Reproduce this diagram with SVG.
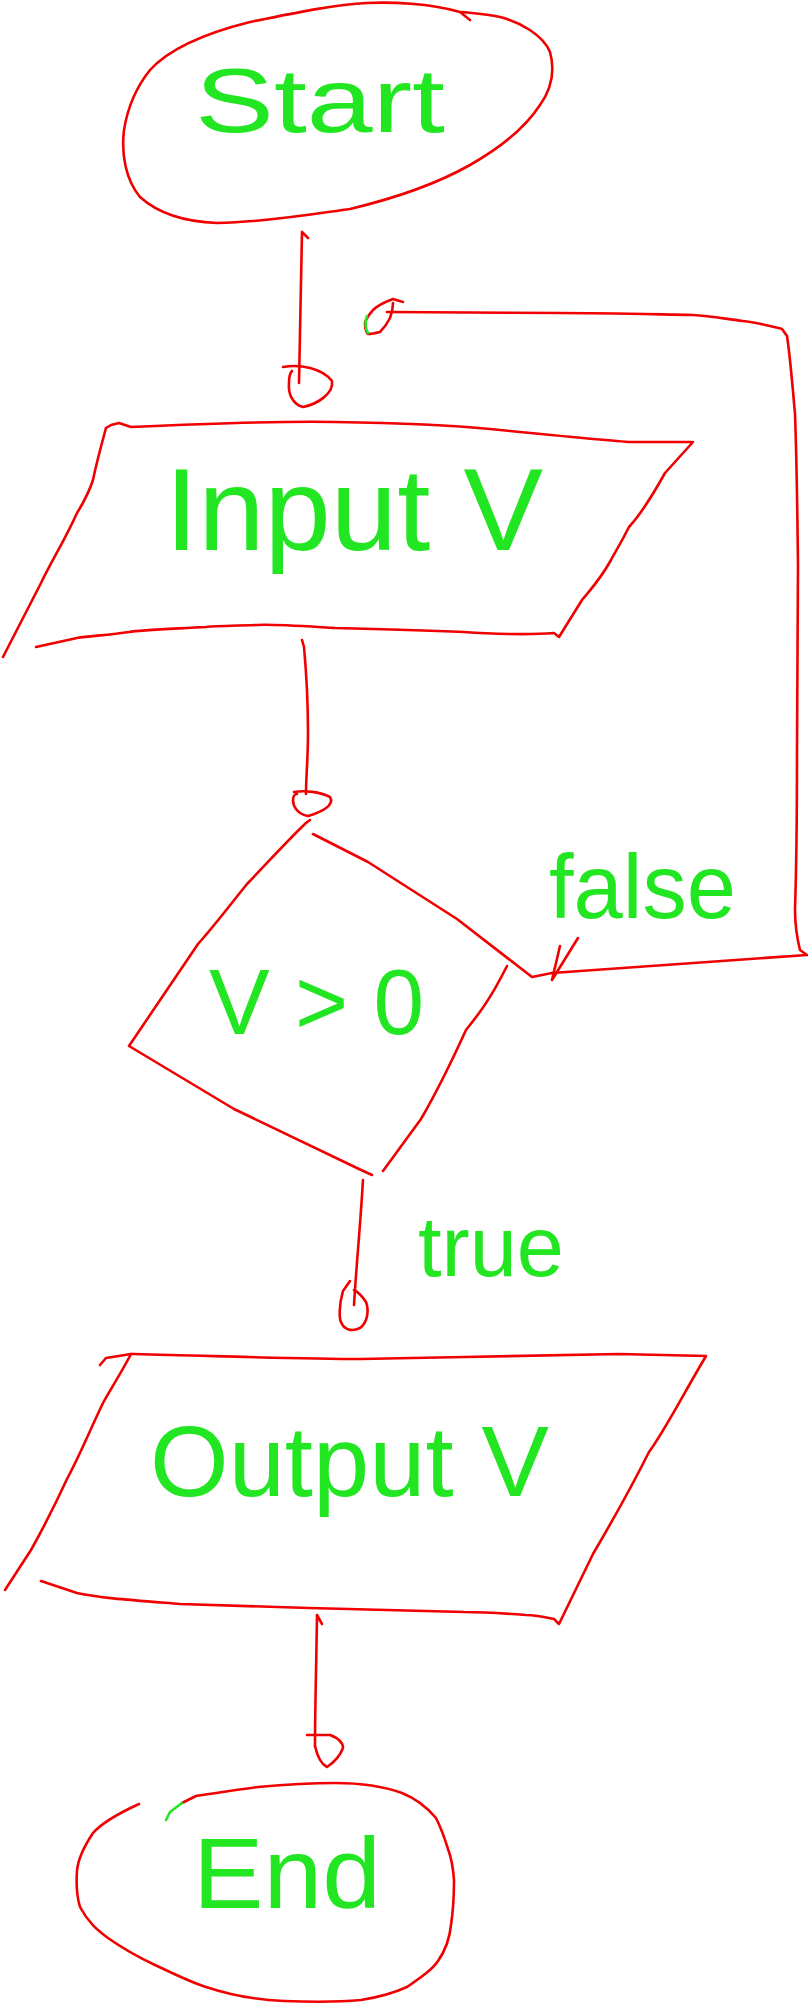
<svg xmlns="http://www.w3.org/2000/svg" width="808" height="2004" viewBox="0 0 808 2004">
<style>
.s{fill:none;stroke:#f00000;stroke-width:2.6;stroke-linecap:round;stroke-linejoin:round}
.g{fill:none;stroke:#22e622;stroke-width:2.6;stroke-linecap:round;stroke-linejoin:round}
.t{font-family:"Liberation Sans",Arial,sans-serif;fill:#22e622;font-weight:normal}
</style>
<rect width="808" height="2004" fill="#ffffff"/>
<g id="start">
<path class="s" d="M470,20 L460,12 C430,3 390,2 367,3 C330,5 290,14 250,22 C210,32 170,48 150,70 C138,85 128,105 124,130 C121,155 126,180 140,197 C160,215 190,222 217,223 C270,222 320,213 350,209 C400,197 440,182 470,165 C500,148 525,128 540,105 C552,88 555,70 550,52 C543,35 520,22 500,17 C485,14 470,13 462,12"/>
<text class="t" x="195" y="132" font-size="90" textLength="250" lengthAdjust="spacingAndGlyphs">Start</text>
</g>
<g id="input">
<path class="s" d="M106,428 L111,425 L119,423 L131,427 C200,424 300,421 335,422 C400,423 460,426 490,429 C540,434 600,440 629,442 L693,442 L665,473 C650,500 640,515 629,527 C620,545 615,552 611,560 C600,580 590,590 582,600 L559,637 L554,633 C530,635 490,634 464,632 C420,630 380,629 335,628 C300,626 270,624 258,625 C230,626 210,626 206,627 C170,629 140,630 129,632 C110,635 90,636 77,638 L36,647"/>
<path class="s" d="M106,428 C100,450 96,465 93,480 C88,495 82,505 77,513 C65,540 52,560 41,583 L3,657"/>
<text class="t" x="165" y="550" font-size="116" textLength="378" lengthAdjust="spacingAndGlyphs">Input V</text>
</g>
<g id="decision">
<path class="s" d="M310,820 L306,823 C290,838 270,860 247,884 C230,905 215,925 198,944 L129,1046 L234,1109 L359,1169 L372,1175"/>
<path class="s" d="M507,966 C490,1000 478,1015 466,1030 C450,1065 435,1095 421,1119 L383,1171"/>
<path class="s" d="M313,834 L368,862 L457,919 L532,977 L552,973"/>
<text class="t" x="209" y="1034" font-size="92" textLength="215" lengthAdjust="spacingAndGlyphs">V &gt; 0</text>
</g>
<g id="output">
<path class="s" d="M100,1365 L106,1358 L131,1354 L134,1354 C250,1357 300,1359 361,1359 C420,1358 450,1357 464,1357 C550,1355 600,1354 619,1354 L706,1356 C680,1400 665,1430 649,1452 C630,1490 610,1525 593,1554 L559,1624 L554,1619 C540,1616 530,1615 526,1615 C500,1613 480,1612 464,1612 C400,1610 350,1609 309,1608 C250,1606 200,1605 180,1604 C130,1600 100,1598 77,1593 L41,1581"/>
<path class="s" d="M131,1354 C120,1375 110,1390 103,1403 C90,1430 80,1455 67,1479 C55,1505 45,1525 31,1550 L5,1590"/>
<text class="t" x="150" y="1496" font-size="100" textLength="399" lengthAdjust="spacingAndGlyphs">Output V</text>
</g>
<g id="end">
<path class="s" d="M139,1804 C115,1815 100,1825 93,1833 C85,1845 78,1858 77,1871 C76,1885 77,1897 80,1907 C88,1922 97,1930 108,1938 C125,1950 140,1958 155,1965 C170,1972 190,1982 206,1987 C230,1995 260,2000 284,2001 C310,2002 340,2002 361,2000 C380,1997 396,1992 407,1987 C420,1978 432,1970 438,1961 C447,1948 450,1935 451,1925 C454,1905 454,1892 454,1880 C453,1866 451,1857 448,1849 C444,1836 440,1826 436,1818 C425,1805 412,1797 402,1793 C380,1785 355,1783 335,1783 C305,1783 280,1785 258,1787 C235,1790 210,1794 196,1796 L182,1803"/>
<path class="g" d="M182,1803 L170,1812 L166,1820"/>
<text class="t" x="193" y="1908" font-size="100" textLength="188" lengthAdjust="spacingAndGlyphs">End</text>
</g>
<g id="connectors">
<path class="s" d="M308,238 L302,232 L299,383"/>
<path class="s" d="M283,367 C300,364 322,368 332,381 C334,393 318,404 303,407 C292,404 288,393 289,383 C289,377 290,373 292,371"/>
<path class="s" d="M302,640 L304,647 C307,680 308,720 308,733 C308,760 306,775 306,794"/>
<path class="s" d="M294,792 C305,790 320,792 330,797 C335,805 322,812 308,816 C297,814 293,806 293,800 C293,796 295,794 297,794"/>
<path class="s" d="M552,973 C600,970 700,962 807,955 L800,950 C795,930 795,915 795,909 C797,850 797,800 797,749 C798,650 798,600 798,565 C797,480 796,440 795,414 C792,380 790,355 787,336 L782,329 C770,326 755,322 743,321 C720,318 710,316 693,315 C640,314 600,313 560,313 L387,312"/>
<path class="s" d="M403,302 L393,299 C385,302 378,305 373,310 C369,315 366,318 365,323 C365,328 366,332 368,334 C372,334 376,333 380,332 C385,327 388,322 390,318 C392,313 393,308 393,303"/>
<path class="g" d="M367,316 C365,322 365,328 368,333"/>
<path class="s" d="M560,946 L552,980 L578,938"/>
<path class="s" d="M363,1180 C360,1230 356,1270 354,1305"/>
<path class="s" d="M350,1281 L343,1291 C339,1305 339,1318 341,1322 C344,1330 352,1332 360,1328 C368,1322 369,1310 366,1302 C362,1296 358,1292 354,1290"/>
<path class="s" d="M322,1624 L317,1615 L317,1617 C316,1680 315,1710 315,1746"/>
<path class="s" d="M307,1735 L330,1735 C338,1738 343,1743 343,1748 C340,1756 333,1763 327,1767 C321,1764 317,1755 315,1746"/>
<text class="t" x="549" y="918" font-size="90" textLength="187" lengthAdjust="spacingAndGlyphs">false</text>
<text class="t" x="418" y="1276" font-size="86" textLength="146" lengthAdjust="spacingAndGlyphs">true</text>
</g>
</svg>
